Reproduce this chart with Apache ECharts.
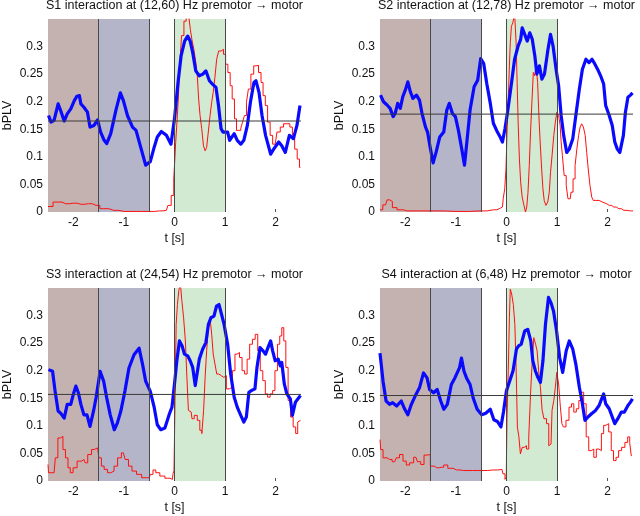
<!DOCTYPE html>
<html><head><meta charset="utf-8">
<script src="https://cdn.jsdelivr.net/npm/echarts@6/dist/echarts.min.js"></script>
<style>html,body{margin:0;padding:0;background:#fff}#c{width:640px;height:516px}</style>
</head><body><div id="c"></div>
<script>
// ---------- data ----------
const titles = [
  'S1 interaction at (12,60) Hz premotor \u2192 motor',
  'S2 interaction at (12,78) Hz premotor \u2192 motor',
  'S3 interaction at (24,54) Hz premotor \u2192 motor',
  'S4 interaction at (6,48) Hz premotor \u2192 motor'
];
const xName = 't [s]';
const yName = 'bPLV';
const regions = [[-2.5, -1.5], [-1.5, -0.5], [0, 1]];
const boundaryLines = [-1.5, -0.5, 0, 1];
const baselines = [0.165, 0.1775, 0.157, 0.155];

const s1Blue = [[-2.49,0.175],[-2.44,0.163],[-2.38,0.166],[-2.30,0.196],[-2.25,0.184],[-2.18,0.165],[-2.12,0.178],[-2.05,0.187],[-1.98,0.202],[-1.93,0.21],[-1.88,0.211],[-1.85,0.196],[-1.79,0.19],[-1.72,0.181],[-1.67,0.154],[-1.59,0.157],[-1.52,0.167],[-1.46,0.145],[-1.39,0.13],[-1.34,0.124],[-1.26,0.142],[-1.16,0.184],[-1.07,0.216],[-1.01,0.202],[-0.93,0.175],[-0.83,0.154],[-0.76,0.148],[-0.67,0.118],[-0.57,0.085],[-0.48,0.091],[-0.40,0.118],[-0.34,0.136],[-0.26,0.146],[-0.16,0.139],[-0.07,0.123],[0,0.169],[0.07,0.235],[0.13,0.283],[0.2,0.31],[0.26,0.319],[0.31,0.31],[0.36,0.289],[0.42,0.256],[0.49,0.247],[0.56,0.25],[0.62,0.256],[0.69,0.238],[0.75,0.232],[0.82,0.226],[0.87,0.193],[0.92,0.151],[0.96,0.145],[1.05,0.145],[1.09,0.13],[1.18,0.142],[1.24,0.13],[1.31,0.123],[1.37,0.13],[1.44,0.157],[1.50,0.199],[1.57,0.235],[1.61,0.238],[1.67,0.217],[1.73,0.175],[1.80,0.139],[1.90,0.105],[1.96,0.114],[2.06,0.127],[2.12,0.12],[2.19,0.108],[2.27,0.139],[2.35,0.133],[2.42,0.157],[2.48,0.193]];
const s1Red = [[-2.5,0.01],[-2.3,0.018],[-2.15,0.015],[-2.0,0.016],[-1.85,0.014],[-1.7,0.015],[-1.55,0.012],[-1.4,0.006],[-1.2,0.003],[-1.0,0.001],[-0.8,0.001],[-0.5,0.001],[-0.3,0.002],[-0.16,0.003],[-0.1,0.012],[-0.03,0.03],[0,0.06],[0.013,0.096],[0.033,0.126],[0.065,0.163],[0.085,0.205],[0.118,0.265],[0.163,0.32],[0.21,0.346],[0.25,0.36],[0.3,0.36],[0.327,0.331],[0.36,0.313],[0.405,0.295],[0.438,0.271],[0.464,0.247],[0.49,0.205],[0.52,0.175],[0.556,0.151],[0.59,0.12],[0.62,0.111],[0.65,0.117],[0.686,0.145],[0.72,0.175],[0.75,0.199],[0.78,0.217],[0.817,0.244],[0.85,0.277],[0.895,0.292],[0.948,0.295],[0.99,0.286],[1.03,0.268],[1.08,0.253],[1.12,0.229],[1.16,0.205],[1.21,0.169],[1.24,0.148],[1.29,0.148],[1.33,0.152],[1.36,0.163],[1.405,0.175],[1.44,0.199],[1.48,0.223],[1.54,0.25],[1.59,0.265],[1.63,0.266],[1.69,0.253],[1.73,0.235],[1.77,0.211],[1.82,0.193],[1.86,0.163],[1.92,0.139],[1.96,0.123],[1.99,0.123],[2.06,0.145],[2.12,0.154],[2.19,0.16],[2.25,0.16],[2.31,0.154],[2.35,0.139],[2.40,0.114],[2.45,0.096],[2.49,0.081]];

const s2Blue = [[-2.49,0.212],[-2.43,0.2],[-2.36,0.194],[-2.30,0.188],[-2.24,0.173],[-2.20,0.179],[-2.15,0.197],[-2.10,0.188],[-2.05,0.209],[-2.0,0.221],[-1.95,0.236],[-1.90,0.218],[-1.85,0.206],[-1.78,0.212],[-1.72,0.203],[-1.67,0.179],[-1.60,0.154],[-1.56,0.145],[-1.51,0.118],[-1.45,0.089],[-1.39,0.109],[-1.32,0.136],[-1.24,0.145],[-1.18,0.185],[-1.13,0.197],[-1.07,0.179],[-1.01,0.173],[-0.95,0.148],[-0.88,0.112],[-0.83,0.085],[-0.78,0.13],[-0.72,0.185],[-0.64,0.227],[-0.57,0.239],[-0.51,0.278],[-0.45,0.269],[-0.39,0.233],[-0.32,0.197],[-0.26,0.161],[-0.18,0.145],[-0.12,0.135],[-0.08,0.127],[-0.03,0.151],[0.03,0.187],[0.1,0.235],[0.16,0.277],[0.23,0.301],[0.28,0.313],[0.31,0.334],[0.36,0.322],[0.41,0.31],[0.46,0.325],[0.51,0.313],[0.56,0.283],[0.6,0.25],[0.65,0.265],[0.7,0.241],[0.75,0.25],[0.82,0.295],[0.87,0.322],[0.92,0.301],[0.98,0.259],[1.03,0.229],[1.08,0.175],[1.13,0.139],[1.19,0.108],[1.24,0.114],[1.31,0.133],[1.37,0.175],[1.44,0.223],[1.5,0.259],[1.57,0.277],[1.63,0.271],[1.69,0.277],[1.73,0.271],[1.8,0.259],[1.86,0.247],[1.92,0.232],[1.96,0.193],[2.03,0.175],[2.09,0.157],[2.14,0.127],[2.19,0.114],[2.24,0.108],[2.31,0.139],[2.35,0.181],[2.4,0.208],[2.45,0.212],[2.49,0.216]];
const s2Red = [[-2.5,0.004],[-2.39,0.013],[-2.33,0.022],[-2.28,0.019],[-2.23,0.008],[-2.1,0.004],[-1.97,0.002],[-1.5,0.002],[-1.0,0.001],[-0.5,0.002],[-0.26,0.004],[-0.12,0.007],[-0.08,0.009],[-0.05,0.024],[-0.02,0.042],[0,0.078],[0.02,0.145],[0.05,0.205],[0.065,0.265],[0.085,0.307],[0.11,0.337],[0.14,0.343],[0.18,0.36],[0.2,0.307],[0.22,0.235],[0.24,0.163],[0.27,0.096],[0.29,0.054],[0.33,0.027],[0.36,0.012],[0.39,0.0],[0.41,0.009],[0.44,0.036],[0.46,0.084],[0.49,0.145],[0.52,0.205],[0.54,0.253],[0.57,0.247],[0.6,0.265],[0.63,0.235],[0.65,0.175],[0.68,0.127],[0.71,0.078],[0.73,0.042],[0.76,0.021],[0.8,0.012],[0.83,0.018],[0.86,0.036],[0.88,0.072],[0.92,0.102],[0.95,0.139],[0.98,0.163],[1.01,0.181],[1.05,0.175],[1.07,0.157],[1.09,0.127],[1.12,0.102],[1.16,0.066],[1.2,0.048],[1.23,0.024],[1.26,0.024],[1.29,0.036],[1.34,0.06],[1.37,0.084],[1.41,0.114],[1.44,0.139],[1.47,0.154],[1.5,0.16],[1.54,0.154],[1.57,0.139],[1.6,0.108],[1.63,0.078],[1.67,0.048],[1.7,0.027],[1.73,0.021],[1.8,0.021],[1.86,0.018],[1.93,0.015],[2.03,0.012],[2.12,0.009],[2.22,0.006],[2.32,0.003],[2.45,0.002],[2.5,0.002]];

const s3Blue = [[-2.49,0.202],[-2.41,0.199],[-2.36,0.163],[-2.3,0.127],[-2.25,0.123],[-2.18,0.114],[-2.12,0.139],[-2.05,0.139],[-2.0,0.157],[-1.95,0.172],[-1.9,0.16],[-1.85,0.139],[-1.79,0.12],[-1.73,0.12],[-1.67,0.099],[-1.6,0.127],[-1.55,0.151],[-1.47,0.199],[-1.4,0.181],[-1.34,0.151],[-1.27,0.12],[-1.19,0.093],[-1.13,0.105],[-1.06,0.127],[-0.98,0.163],[-0.9,0.205],[-0.8,0.229],[-0.7,0.241],[-0.63,0.211],[-0.57,0.181],[-0.48,0.163],[-0.4,0.133],[-0.34,0.102],[-0.27,0.093],[-0.19,0.096],[-0.1,0.122],[-0.05,0.134],[0,0.176],[0.046,0.218],[0.098,0.254],[0.15,0.245],[0.196,0.23],[0.26,0.227],[0.31,0.218],[0.36,0.206],[0.41,0.173],[0.44,0.175],[0.49,0.221],[0.556,0.239],[0.62,0.251],[0.67,0.284],[0.72,0.296],[0.78,0.299],[0.83,0.317],[0.88,0.32],[0.93,0.302],[0.98,0.284],[1.05,0.248],[1.11,0.194],[1.18,0.152],[1.24,0.134],[1.31,0.119],[1.37,0.107],[1.42,0.116],[1.47,0.161],[1.52,0.164],[1.59,0.167],[1.63,0.206],[1.69,0.242],[1.75,0.236],[1.8,0.23],[1.86,0.245],[1.9,0.254],[1.94,0.236],[1.99,0.218],[2.05,0.221],[2.09,0.209],[2.12,0.215],[2.17,0.176],[2.22,0.158],[2.29,0.149],[2.33,0.119],[2.39,0.143],[2.44,0.149],[2.49,0.155]];
const s3Red = [[-2.5,0.03],[-2.48,0.015],[-2.38,0.015],[-2.33,0.042],[-2.28,0.078],[-2.23,0.081],[-2.18,0.057],[-2.13,0.042],[-2.08,0.024],[-2.04,0.015],[-1.97,0.024],[-1.88,0.036],[-1.79,0.039],[-1.74,0.033],[-1.69,0.048],[-1.59,0.057],[-1.52,0.06],[-1.47,0.042],[-1.42,0.027],[-1.36,0.021],[-1.29,0.015],[-1.23,0.018],[-1.16,0.027],[-1.09,0.042],[-1.01,0.051],[-0.94,0.039],[-0.88,0.027],[-0.8,0.018],[-0.7,0.012],[-0.6,0.006],[-0.5,0.006],[-0.45,0.012],[-0.4,0.02],[-0.34,0.015],[-0.24,0.009],[-0.14,0.005],[-0.04,0.003],[-0.02,0.013],[0,0.019],[0.02,0.146],[0.046,0.284],[0.07,0.32],[0.1,0.345],[0.13,0.36],[0.16,0.327],[0.2,0.296],[0.23,0.254],[0.26,0.188],[0.29,0.128],[0.33,0.125],[0.36,0.113],[0.42,0.119],[0.48,0.11],[0.52,0.092],[0.56,0.086],[0.59,0.128],[0.62,0.188],[0.65,0.236],[0.69,0.278],[0.72,0.293],[0.75,0.266],[0.78,0.23],[0.82,0.212],[0.85,0.194],[0.9,0.191],[0.95,0.188],[1.0,0.191],[1.05,0.167],[1.11,0.17],[1.18,0.2],[1.21,0.23],[1.26,0.233],[1.31,0.224],[1.36,0.2],[1.41,0.194],[1.46,0.221],[1.51,0.248],[1.57,0.257],[1.62,0.266],[1.67,0.236],[1.72,0.2],[1.77,0.182],[1.82,0.158],[1.86,0.152],[1.92,0.158],[1.96,0.164],[2.01,0.2],[2.06,0.248],[2.1,0.263],[2.14,0.278],[2.18,0.254],[2.22,0.206],[2.27,0.146],[2.32,0.116],[2.37,0.098],[2.42,0.086],[2.45,0.107],[2.49,0.11]];

const s4Blue = [[-2.5,0.232],[-2.44,0.181],[-2.38,0.145],[-2.31,0.139],[-2.25,0.142],[-2.17,0.136],[-2.08,0.145],[-2.01,0.13],[-1.95,0.12],[-1.88,0.139],[-1.79,0.157],[-1.72,0.169],[-1.64,0.196],[-1.57,0.187],[-1.52,0.166],[-1.44,0.16],[-1.37,0.166],[-1.3,0.145],[-1.24,0.13],[-1.17,0.139],[-1.09,0.175],[-1.02,0.187],[-0.93,0.205],[-0.89,0.223],[-0.84,0.199],[-0.79,0.187],[-0.72,0.175],[-0.66,0.151],[-0.58,0.13],[-0.49,0.12],[-0.41,0.123],[-0.32,0.13],[-0.25,0.111],[-0.18,0.108],[-0.11,0.098],[-0.06,0.125],[0,0.164],[0.065,0.182],[0.13,0.2],[0.196,0.239],[0.24,0.245],[0.29,0.248],[0.36,0.272],[0.42,0.275],[0.48,0.254],[0.52,0.218],[0.57,0.2],[0.62,0.188],[0.67,0.179],[0.72,0.218],[0.77,0.284],[0.83,0.333],[0.88,0.323],[0.93,0.308],[0.99,0.272],[1.05,0.224],[1.11,0.197],[1.18,0.236],[1.24,0.254],[1.31,0.239],[1.37,0.212],[1.44,0.17],[1.5,0.14],[1.55,0.11],[1.61,0.116],[1.68,0.122],[1.76,0.128],[1.83,0.137],[1.88,0.149],[1.92,0.158],[1.96,0.14],[2.03,0.131],[2.09,0.116],[2.14,0.104],[2.2,0.113],[2.27,0.125],[2.33,0.125],[2.4,0.137],[2.45,0.143],[2.49,0.149]];
const s4Red = [[-2.5,0.075],[-2.47,0.057],[-2.41,0.042],[-2.31,0.039],[-2.21,0.035],[-2.15,0.042],[-2.08,0.048],[-2.01,0.036],[-1.95,0.029],[-1.88,0.033],[-1.79,0.043],[-1.73,0.035],[-1.66,0.03],[-1.6,0.047],[-1.53,0.048],[-1.48,0.027],[-1.38,0.024],[-1.28,0.025],[-1.2,0.029],[-1.12,0.023],[-0.99,0.02],[-0.85,0.019],[-0.5,0.019],[-0.26,0.02],[-0.09,0.021],[-0.05,0.013],[-0.01,0.003],[0,0.007],[0.02,0.116],[0.05,0.2],[0.065,0.296],[0.085,0.348],[0.12,0.339],[0.15,0.32],[0.18,0.284],[0.2,0.206],[0.23,0.098],[0.26,0.08],[0.29,0.049],[0.33,0.061],[0.37,0.064],[0.42,0.058],[0.46,0.08],[0.49,0.158],[0.52,0.212],[0.56,0.26],[0.59,0.248],[0.62,0.236],[0.65,0.2],[0.69,0.17],[0.72,0.128],[0.76,0.113],[0.82,0.104],[0.85,0.064],[0.88,0.067],[0.92,0.128],[0.95,0.146],[0.98,0.17],[1.01,0.197],[1.05,0.176],[1.08,0.134],[1.11,0.104],[1.14,0.098],[1.21,0.11],[1.26,0.134],[1.31,0.14],[1.35,0.125],[1.41,0.131],[1.45,0.146],[1.5,0.161],[1.55,0.14],[1.6,0.08],[1.65,0.055],[1.7,0.058],[1.75,0.043],[1.8,0.058],[1.85,0.055],[1.9,0.086],[1.94,0.101],[1.99,0.104],[2.05,0.089],[2.09,0.055],[2.14,0.037],[2.19,0.043],[2.24,0.055],[2.31,0.061],[2.37,0.07],[2.42,0.08],[2.45,0.07],[2.48,0.046]];

const blueSeries = [s1Blue, s2Blue, s3Blue, s4Blue];
const redSeries = [s1Red, s2Red, s3Red, s4Red];

// ---------- layout / style ----------
const FONT = "'Liberation Sans', Arial, Helvetica, sans-serif";
const regionColors = ['#c4b2b0', '#b4b5c9', '#d2e9d2'];
const gridPos = [
  {left: 48, top: 19}, {left: 380, top: 19},
  {left: 48, top: 288}, {left: 380, top: 288}
];
const GW = 253, GH = 193;

const option = {
  animation: false,
  backgroundColor: '#ffffff',
  title: [], grid: [], xAxis: [], yAxis: [], series: []
};

gridPos.forEach((g, i) => {
  option.title.push({
    text: titles[i], left: g.left + GW / 2, top: g.top - 20, textAlign: 'center', padding: 0,
    textStyle: {fontSize: 12.5, fontWeight: 'normal', color: '#111', fontFamily: FONT}
  });
  option.grid.push({left: g.left, top: g.top, width: GW, height: GH, outerBoundsMode: 'none', containLabel: false});
  option.xAxis.push({
    gridIndex: i, type: 'value', min: -2.5, max: 2.5, splitNumber: 5,
    name: xName, nameLocation: 'middle', nameGap: 20,
    nameTextStyle: {fontSize: 12.5, color: '#111', fontFamily: FONT},
    axisLine: {show: false},
    axisTick: {show: true, inside: true, length: 3, lineStyle: {color: '#555'}},
    axisLabel: {fontSize: 12, color: '#111', fontFamily: FONT, margin: 5, showMinLabel: false, showMaxLabel: false},
    splitLine: {show: false}
  });
  option.yAxis.push({
    gridIndex: i, type: 'value', min: 0, max: 0.35, interval: 0.05,
    name: yName, nameLocation: 'middle', nameGap: 34,
    nameTextStyle: {fontSize: 12.5, color: '#111', fontFamily: FONT},
    axisLine: {show: false}, axisTick: {show: false},
    axisLabel: {fontSize: 12, color: '#111', fontFamily: FONT, margin: 5, showMaxLabel: false},
    splitLine: {show: false}
  });
  option.series.push({
    type: 'line', xAxisIndex: i, yAxisIndex: i, data: [], silent: true, z: 1,
    markArea: {
      silent: true,
      data: regions.map((r, k) => [{xAxis: r[0], itemStyle: {color: regionColors[k], opacity: 1}}, {xAxis: r[1]}])
    },
    markLine: {
      silent: true, symbol: ['none', 'none'], label: {show: false},
      lineStyle: {color: '#4a4a4a', width: 1, type: 'solid'},
      data: boundaryLines.map(x => ({xAxis: x}))
    }
  });
  option.series.push({
    type: 'line', xAxisIndex: i, yAxisIndex: i, data: redSeries[i], step: 'middle',
    symbol: 'none', silent: true, z: 3, lineStyle: {color: '#ff1010', width: 1}
  });
  option.series.push({
    type: 'line', xAxisIndex: i, yAxisIndex: i, data: blueSeries[i],
    symbol: 'none', silent: true, z: 4, lineStyle: {color: '#0a0aff', width: 3.2, join: 'round'}
  });
  option.series.push({
    type: 'line', xAxisIndex: i, yAxisIndex: i, data: [[-2.5, baselines[i]], [2.5, baselines[i]]],
    symbol: 'none', silent: true, z: 5, lineStyle: {color: '#3a3a3a', width: 1}
  });
});

const chart = echarts.init(document.getElementById('c'), null, {renderer: 'canvas'});
chart.setOption(option);
</script>
</body></html>
